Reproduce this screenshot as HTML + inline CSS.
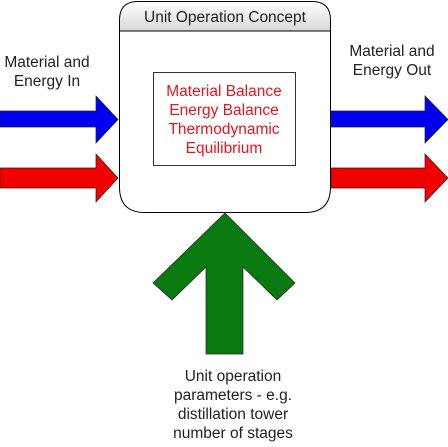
<!DOCTYPE html>
<html><head><style>
body{margin:0;background:#fff}
svg text{font-family:"Liberation Sans",sans-serif;}
</style></head><body>
<svg width="448" height="442" viewBox="0 0 448 442" xmlns="http://www.w3.org/2000/svg">
<defs><linearGradient id="g" x1="0" y1="0" x2="0" y2="1"><stop offset="0" stop-color="#fff"/><stop offset="1" stop-color="#d8d8d8"/></linearGradient></defs>
<path d="M119.5,31 L119.5,20 Q119.5,1.5 138,1.5 L312,1.5 Q330.5,1.5 330.5,20 L330.5,31 Z" fill="url(#g)" stroke="#000"/>
<path d="M119.5,31 L330.5,31 L330.5,187 Q330.5,212.5 305,212.5 L145,212.5 Q119.5,212.5 119.5,187 Z" fill="#fff" stroke="#000"/>
<text x="225" y="22" font-size="15.5" text-anchor="middle" fill="#222">Unit Operation Concept</text>
<rect x="153.5" y="72.5" width="142" height="93" fill="#fff" stroke="#333"/>
<g fill="#e8141e" font-size="15.5" text-anchor="middle">
<text x="224" y="96">Material Balance</text>
<text x="224" y="115">Energy Balance</text>
<text x="224" y="134">Thermodynamic</text>
<text x="224" y="153">Equilibrium</text>
</g>
<g font-size="15.5" fill="#222" text-anchor="middle">
<text x="47" y="67">Material and</text>
<text x="47" y="86">Energy In</text>
<text x="392" y="56">Material and</text>
<text x="392" y="75">Energy Out</text>
<text x="233" y="381">Unit operation</text>
<text x="233" y="400">parameters - e.g.</text>
<text x="233" y="419">distillation tower</text>
<text x="233" y="438">number of stages</text>
</g>
<g stroke="#222" stroke-width="0.7">
<path d="M0,111 L96,111 L96,96 L118,119.5 L96,143 L96,127 L0,127 Z" fill="#0000f0"/>
<path d="M0,168 L96,168 L96,154 L118,178 L96,202 L96,188 L0,188 Z" fill="#f00000"/>
<path d="M331,111 L425,111 L425,96 L448,119.5 L425,143 L425,127 L331,127 Z" fill="#0000f0"/>
<path d="M331,168 L425,168 L425,154 L448,178 L425,202 L425,188 L331,188 Z" fill="#f00000"/>
<path d="M225,213 L295,283 L277,300 L243,267 L243,354 L206,354 L206,267 L172,300 L153,283 Z" fill="#087a10"/>
</g>
</svg>
</body></html>
